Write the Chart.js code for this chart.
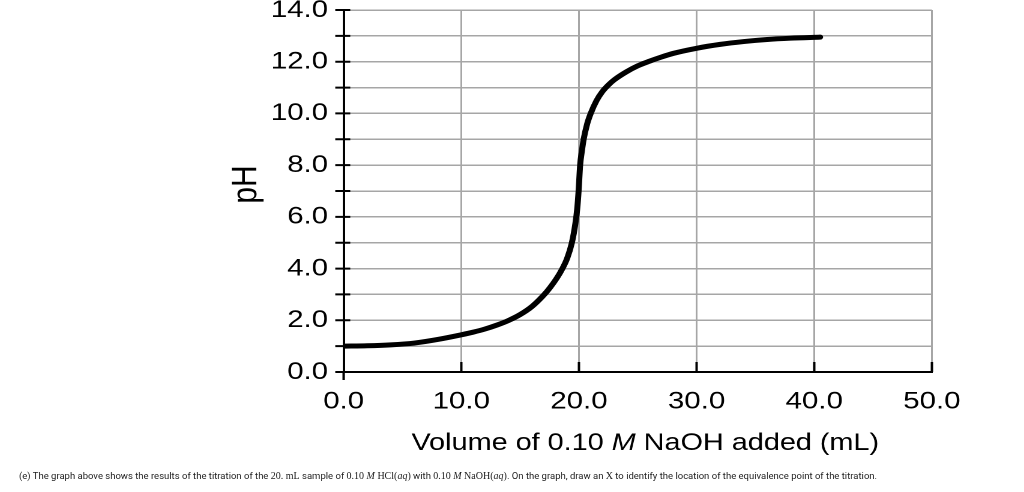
<!DOCTYPE html>
<html><head><meta charset="utf-8">
<script src="https://cdn.jsdelivr.net/npm/chart.js@4.4.1/dist/chart.umd.min.js"></script>
<style>
html,body{margin:0;padding:0;width:1024px;height:492px;overflow:hidden;background:#fff;}
#wrap{position:absolute;left:0;top:-30px;width:853px;height:522px;transform:scaleX(1.2005);transform-origin:0 0;}
#footer{position:absolute;left:19px;top:470px;font:9.5px Roboto, "Liberation Sans", sans-serif;color:#222;white-space:nowrap;line-height:12px;}
.m{font-family:"Liberation Serif","DejaVu Serif",serif;font-size:10px;}
</style></head><body>
<div id="wrap"><canvas id="c" width="853" height="522"></canvas></div>
<div id="footer">(e) The graph above shows the results of the titration of the <span class="m">20. mL</span> sample of <span class="m">0.10 <i>M</i> HCl(<i>aq</i>)</span> with <span class="m">0.10 <i>M</i> NaOH(<i>aq</i>)</span>. On the graph, draw an <span class="m">X</span> to identify the location of the equivalence point of the titration.</div>
<script>
// Data
const volumes = [0, 2, 4, 6, 8, 10, 11, 12, 13, 14, 15, 16, 17, 17.5, 18, 18.5, 19, 19.4, 19.7, 19.85, 19.97, 20.1, 20.25, 20.4, 20.7, 21, 21.5, 22, 22.5, 23, 24, 25, 26, 27, 28, 30, 32, 34, 36, 38, 40.5];
const pHValues = [1.00, 1.015, 1.05, 1.12, 1.26, 1.44, 1.54, 1.66, 1.81, 1.99, 2.22, 2.53, 2.97, 3.24, 3.55, 3.92, 4.4, 5.0, 5.75, 6.3, 7.0, 8.0, 8.55, 9.0, 9.6, 10.0, 10.5, 10.85, 11.1, 11.3, 11.6, 11.84, 12.02, 12.18, 12.32, 12.52, 12.67, 12.78, 12.86, 12.91, 12.95];
const xTicks = [0, 10, 20, 30, 40, 50];
const yTicks = [0,1,2,3,4,5,6,7,8,9,10,11,12,13,14];
const xTitleParts = [["Volume of 0.10 ", false], ["M", true], [" NaOH added (mL)", false]];
const yTitle = "pH";

const FONT = '"Liberation Sans", Arial, Helvetica, sans-serif';
Chart.defaults.font.family = FONT;
Chart.defaults.color = '#000';

const decor = {
  id: 'decor',
  afterDraw(chart) {
    const {ctx, chartArea: a, scales: {x, y}} = chart;
    ctx.save();
    ctx.strokeStyle = '#000';
    ctx.lineWidth = 2;
    ctx.lineCap = 'butt';
    ctx.beginPath();
    yTicks.forEach(v => {
      const py = y.getPixelForValue(v);
      ctx.moveTo(a.left - 7, py); ctx.lineTo(a.left + 5.5, py);
    });
    xTicks.forEach(v => {
      if (v === 0) return;
      const px = x.getPixelForValue(v);
      ctx.moveTo(px, a.bottom); ctx.lineTo(px, a.bottom - 10);
    });
    ctx.moveTo(a.left, a.bottom); ctx.lineTo(a.left, a.bottom + 8);
    ctx.stroke();

    // x title with italic M
    ctx.fillStyle = '#000';
    ctx.textBaseline = 'alphabetic';
    ctx.textAlign = 'left';
    const fN = '24px ' + FONT, fI = 'italic 24px ' + FONT;
    let total = 0;
    xTitleParts.forEach(([t, it]) => { ctx.font = it ? fI : fN; total += ctx.measureText(t).width; });
    let cx = 537.5 - total / 2;
    xTitleParts.forEach(([t, it]) => { ctx.font = it ? fI : fN; ctx.fillText(t, cx, 480); cx += ctx.measureText(t).width; });

    // y title
    ctx.save();
    ctx.translate(205.3, 214.5);
    ctx.rotate(-Math.PI / 2);
    ctx.font = '30px ' + FONT;
    ctx.textAlign = 'center';
    ctx.textBaseline = 'middle';
    ctx.fillText(yTitle, 0, 0);
    ctx.restore();
    ctx.restore();
  }
};

new Chart(document.getElementById('c'), {
  type: 'scatter',
  data: {
    datasets: [{
      data: volumes.map((v, i) => ({x: v, y: pHValues[i]})),
      showLine: true,
      borderColor: '#000',
      backgroundColor: '#000',
      borderWidth: 5,
      pointRadius: 0,
      borderCapStyle: 'round',
      borderJoinStyle: 'round',
      cubicInterpolationMode: 'monotone'
    }]
  },
  options: {
    responsive: false,
    animation: false,
    devicePixelRatio: 2,
    layout: {padding: {left: 0, top: 40, right: 76.75, bottom: 0}},
    plugins: {legend: {display: false}, tooltip: {enabled: false}},
    scales: {
      x: {
        type: 'linear', min: 0, max: 50,
        afterBuildTicks: s => { s.ticks = xTicks.map(v => ({value: v})); },
        afterFit: s => { s.height = 120; },
        ticks: {font: {size: 24.5}, color: '#000', padding: 15, maxRotation: 0, autoSkip: false,
          callback: v => v.toFixed(1)},
        grid: {color: '#a6a6a6', lineWidth: 1.5, drawTicks: false},
        border: {display: true, color: '#000', width: 2}
      },
      y: {
        type: 'linear', min: 0, max: 14,
        afterBuildTicks: s => { s.ticks = yTicks.map(v => ({value: v})); },
        afterFit: s => { s.width = 286.25; },
        ticks: {font: {size: 24.5}, color: '#000', padding: 13, autoSkip: false,
          callback: v => (v % 2 === 0 ? v.toFixed(1) : '')},
        grid: {color: '#a6a6a6', lineWidth: 1.5, drawTicks: false},
        border: {display: true, color: '#000', width: 2}
      }
    }
  },
  plugins: [decor]
});
</script>
</body></html>
